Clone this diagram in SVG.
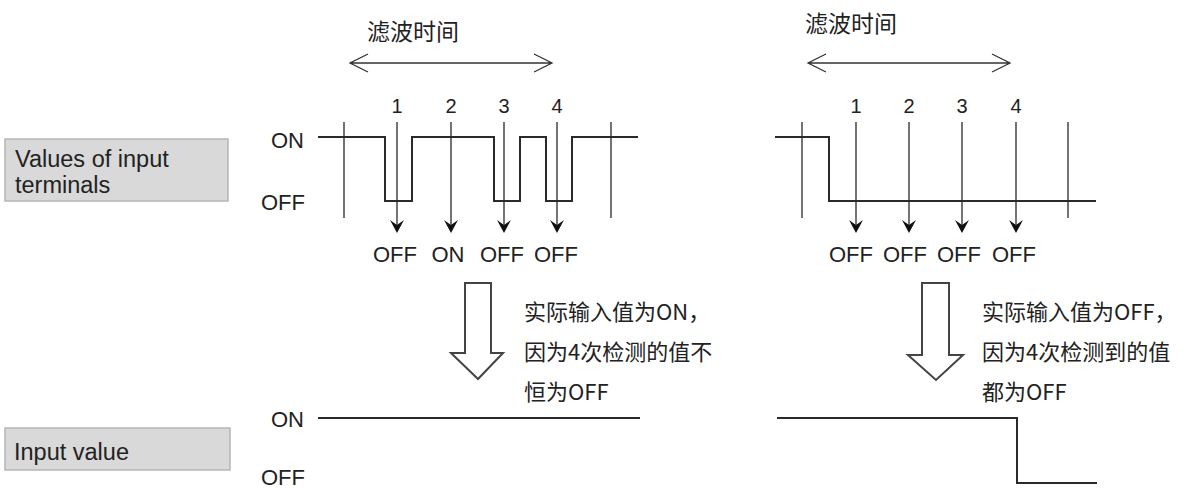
<svg xmlns="http://www.w3.org/2000/svg" width="1197" height="491" viewBox="0 0 1197 491">
<style>
.lat{font-family:"Liberation Sans",Arial,sans-serif;fill:#222}
.cjk{font-family:"Noto Sans CJK SC","Microsoft YaHei",sans-serif;fill:#222}
.box{fill:#d9d9d9;stroke:#b5b5b5;stroke-width:1.5}
.wave{fill:none;stroke:#2a2a2a;stroke-width:2}
.tick{fill:none;stroke:#2a2a2a;stroke-width:1.3}
.samp{fill:none;stroke:#2a2a2a;stroke-width:1.3}
.head{fill:#111;stroke:none}
.span{fill:none;stroke:#333;stroke-width:1.3}
.hollow{fill:#fff;stroke:#444;stroke-width:2;stroke-linejoin:miter}
</style>
<defs>
<path id="ah" class="head" d="M0,0 L-7,-13 L0,-8 L7,-13 Z"/>
</defs>
<rect width="1197" height="491" fill="#fff"/>

<g id="label-terminals">
<rect class="box" x="5" y="139" width="223" height="62"/>
<text class="lat" x="15" y="167" font-size="23.5">Values of input</text>
<text class="lat" x="15" y="193" font-size="23.5">terminals</text>
</g>
<g id="label-input-value">
<rect class="box" x="5" y="428" width="225" height="42"/>
<text class="lat" x="14" y="460" font-size="23.5">Input value</text>
</g>

<g id="level-labels">
<text class="lat" x="304" y="148" font-size="22" text-anchor="end">ON</text>
<text class="lat" x="305" y="210" font-size="22" text-anchor="end">OFF</text>
<text class="lat" x="304" y="427" font-size="22" text-anchor="end">ON</text>
<text class="lat" x="305" y="485" font-size="22" text-anchor="end">OFF</text>
</g>

<g id="left-filter">
<text class="cjk" x="367" y="40" font-size="23">滤波时间</text>
<path class="span" d="M350,63 H552 M368,54 L350,63 L368,72 M534,54 L552,63 L534,72"/>
</g>
<g id="right-filter">
<text class="cjk" x="805" y="32" font-size="23">滤波时间</text>
<path class="span" d="M808,63 H1010 M826,54 L808,63 L826,72 M992,54 L1010,63 L992,72"/>
</g>

<g id="left-samples">
<g class="lat" font-size="20" text-anchor="middle">
<text x="397" y="113">1</text><text x="451" y="113">2</text><text x="504" y="113">3</text><text x="557" y="113">4</text>
</g>
<g class="lat" font-size="22" text-anchor="middle">
<text x="395" y="262">OFF</text><text x="448" y="262">ON</text><text x="502" y="262">OFF</text><text x="556" y="262">OFF</text>
</g>
</g>
<g id="right-samples">
<g class="lat" font-size="20" text-anchor="middle">
<text x="856" y="113">1</text><text x="909" y="113">2</text><text x="962" y="113">3</text><text x="1016" y="113">4</text>
</g>
<g class="lat" font-size="22" text-anchor="middle">
<text x="851" y="262">OFF</text><text x="905" y="262">OFF</text><text x="959" y="262">OFF</text><text x="1014" y="262">OFF</text>
</g>
</g>

<g id="left-note">
<text class="cjk" x="524" y="320" font-size="22">实际输入值为ON，</text>
<text class="cjk" x="524" y="360" font-size="22">因为4次检测的值不</text>
<text class="cjk" x="524" y="400" font-size="22">恒为OFF</text>
</g>
<g id="right-note">
<text class="cjk" x="982" y="320" font-size="22">实际输入值为OFF，</text>
<text class="cjk" x="982" y="360" font-size="22">因为4次检测到的值</text>
<text class="cjk" x="982" y="400" font-size="22">都为OFF</text>
</g>

<g id="connectors">
<path class="wave" d="M318,137 H385 V201 H412 V137 H494 V201 H520 V137 H546 V201 H572 V137 H638"/>
<path class="wave" d="M775,137 H829 V201 H1096"/>
<path class="wave" d="M318,418 H640"/>
<path class="wave" d="M777,418 H1017 V483 H1097"/>
<path class="tick" d="M344,122 V218 M611,122 V218 M802,122 V218 M1068,122 V218"/>
<path class="samp" d="M397,122 V225 M451,122 V225 M504,122 V225 M557,122 V225 M856,122 V225 M909,122 V225 M962,122 V225 M1016,122 V225"/>
<use href="#ah" x="397" y="233"/><use href="#ah" x="451" y="233"/><use href="#ah" x="504" y="233"/><use href="#ah" x="557" y="233"/>
<use href="#ah" x="856" y="233"/><use href="#ah" x="909" y="233"/><use href="#ah" x="962" y="233"/><use href="#ah" x="1016" y="233"/>
<polygon class="hollow" points="465,283 491,283 491,353 503,353 478,379 451,353 465,353"/>
<polygon class="hollow" points="922,283 949,283 949,355 963,355 936,380 908,355 922,355"/>
</g>
</svg>
